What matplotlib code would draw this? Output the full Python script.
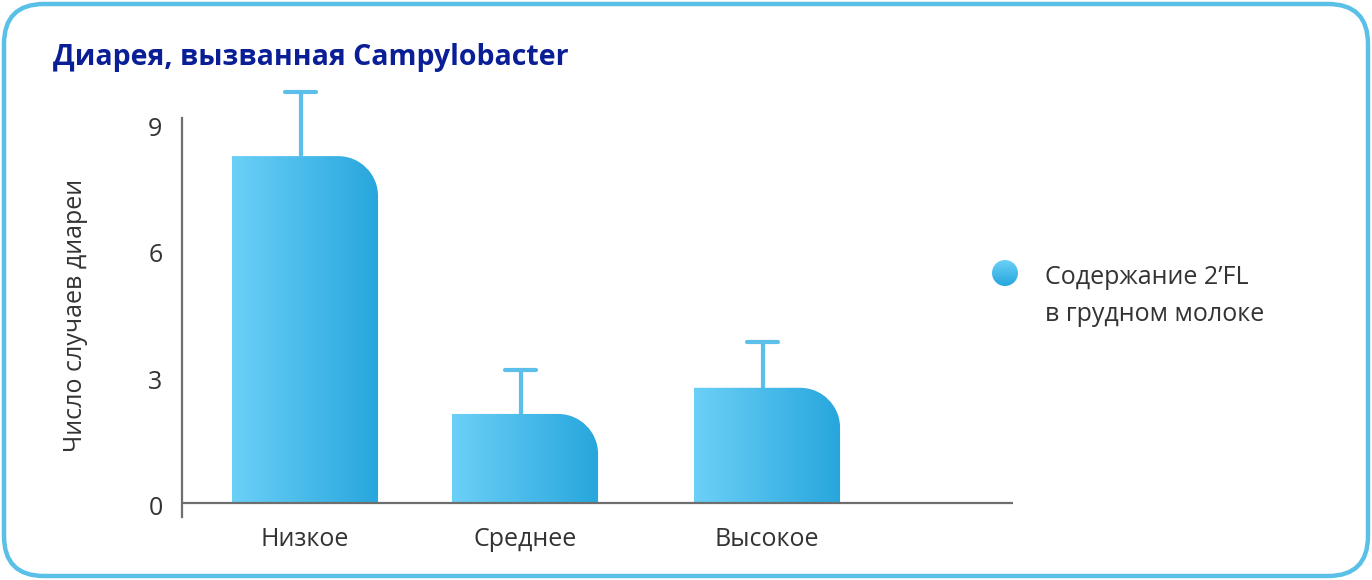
import matplotlib
matplotlib.use("Agg")
import matplotlib.pyplot as plt
import matplotlib.transforms as mtransforms
import numpy as np
from matplotlib.colors import LinearSegmentedColormap
from matplotlib.patches import FancyBboxPatch, Ellipse, PathPatch
from matplotlib.path import Path

# data
categories = ["Низкое", "Среднее", "Высокое"]
cases = [8.22, 2.11, 2.73]
err_top = [9.74, 3.15, 3.82]
y_ticks = [0, 3, 6, 9]

title = "Диарея, вызванная Campylobacter"
ylabel = "Число случаев диареи"
legend_text = "Содержание 2’FL\nв грудном молоке"

# layout (category slots, slightly uneven as in the original)
positions = [0, 1, 2.1]
bar_width = 0.664
W, H = 1372, 580

plt.rcParams["font.family"] = ["Open Sans", "DejaVu Sans"]
text_color = "#333333"
axis_color = "#6e6e6e"
light_blue = "#6bd0f7"
dark_blue = "#27a6dd"
err_color = "#5bbfe9"
grad = LinearSegmentedColormap.from_list("bar", [light_blue, dark_blue])

fig = plt.figure(figsize=(W / 100, H / 100), dpi=100)

# background axes in pixel units for the frame and the legend
bg = fig.add_axes([0, 0, 1, 1], zorder=0)
bg.set_xlim(0, W)
bg.set_ylim(H, 0)
bg.axis("off")
frame = FancyBboxPatch((4, 4), W - 8, H - 8, boxstyle="round,pad=0,rounding_size=40",
                       fill=False, ec="#5bc0e8", lw=3.2)
bg.add_patch(frame)
bg.text(53, 57, title, fontsize=20.5, fontweight="bold", color="#0a1e96", va="center", ha="left")

# legend marker: small circle with a vertical gradient
dot = Ellipse((1005, 273), 26, 26, fc="none", ec="none")
bg.add_patch(dot)
dot_im = bg.imshow(np.linspace(0, 1, 64).reshape(-1, 1), cmap=grad,
                   extent=[992, 1018, 286, 260], aspect="auto")
dot_im.set_clip_path(dot)
bg.set_xlim(0, W)
bg.set_ylim(H, 0)
bg.text(1045, 296, legend_text, fontsize=18, color=text_color, va="center", ha="left",
        linespacing=1.65)

ax = fig.add_axes([182 / W, 1 - 517 / H, (1013 - 182) / W, (517 - 118) / H], zorder=1)
ax.patch.set_alpha(0)
ax.set_xlim(-0.559, 3.218)
ax.set_ylim(-0.332, 9.123)

bars = ax.bar(positions, cases, width=bar_width, color="none", ec="none")

# rounded top-right corner, radius ~40 px converted into data units
x_per_px = (ax.get_xlim()[1] - ax.get_xlim()[0]) / 831
y_per_px = (ax.get_ylim()[1] - ax.get_ylim()[0]) / 399
rx, ry = 40 * x_per_px, 40 * y_per_px
k = 0.5523
gradient = np.linspace(0, 1, 256).reshape(1, -1)
for b in bars:
    x0, w, h = b.get_x(), b.get_width(), b.get_height()
    x1 = x0 + w
    verts = [(x0, 0), (x0, h), (x1 - rx, h),
             (x1 - rx + rx * k, h), (x1, h - ry + ry * k), (x1, h - ry),
             (x1, 0), (x0, 0)]
    codes = [Path.MOVETO, Path.LINETO, Path.LINETO,
             Path.CURVE4, Path.CURVE4, Path.CURVE4,
             Path.LINETO, Path.CLOSEPOLY]
    shape = PathPatch(Path(verts, codes), fc="none", ec="none")
    ax.add_patch(shape)
    im = ax.imshow(gradient, cmap=grad, extent=[x0, x1, 0, h], aspect="auto", zorder=2)
    im.set_clip_path(shape)

err_x = [p - 0.02 for p in positions]
ax.vlines(err_x, cases, err_top, color=err_color, lw=3, zorder=1, clip_on=False)
ax.hlines(err_top, [p - 0.07 for p in err_x], [p + 0.07 for p in err_x],
          color=err_color, lw=3, capstyle="round", zorder=1, clip_on=False)

ax.axhline(0, color=axis_color, lw=1.6, zorder=3)
for s in ["top", "right", "bottom"]:
    ax.spines[s].set_visible(False)
ax.spines["left"].set_color(axis_color)
ax.spines["left"].set_linewidth(1.6)

ax.set_yticks(y_ticks)
ax.set_xticks(positions)
ax.set_xticklabels(categories)
ax.tick_params(axis="both", length=0, labelsize=18, labelcolor=text_color)
ax.tick_params(axis="y", pad=14)
ax.tick_params(axis="x", pad=7)
# the y numbers sit a few pixels below their gridline in the original
shift = mtransforms.ScaledTranslation(0, -3 / 100, fig.dpi_scale_trans)
for lbl in ax.get_yticklabels():
    lbl.set_transform(lbl.get_transform() + shift)
ax.set_ylabel(ylabel, fontsize=18, color=text_color)
ax.yaxis.set_label_coords(-0.113, 0.504)

fig.savefig("out.png", dpi=100)
